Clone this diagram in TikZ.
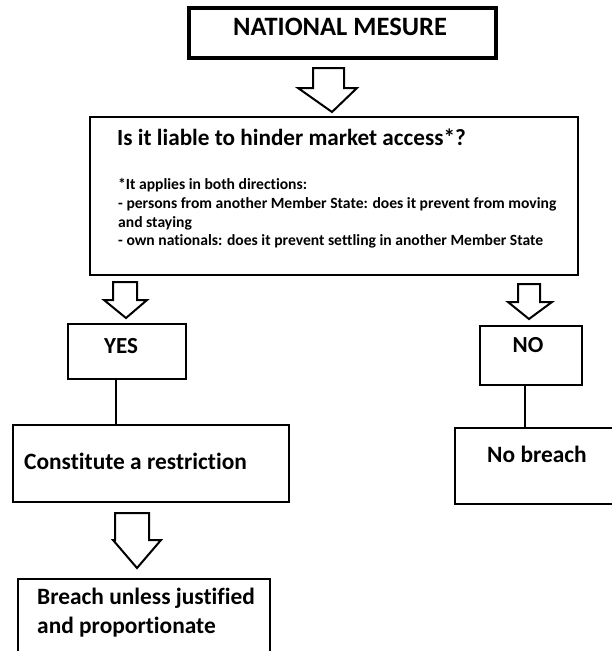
\documentclass[tikz,border=0pt]{standalone}
\usepackage{fontspec}
\setmainfont{Carlito}[Ligatures=CommonOff]
\begin{document}
\begin{tikzpicture}[x=1pt,y=-1pt,
  box/.style={draw=black,line width=2pt,fill=white,inner sep=0pt},
  thickbox/.style={draw=black,line width=3.5pt,fill=white,inner sep=0pt},
  lbl/.style={inner sep=0pt,font=\bfseries},
  blockarrow/.style={draw=black,line width=2pt,fill=white,line join=miter},
  link/.style={draw=black,line width=2pt}]
\useasboundingbox[fill=white] (0,0) rectangle (612,651);
\begin{scope}
\clip (0,0) rectangle (612,651);
% boxes
\node[thickbox,minimum width=307pt,minimum height=50pt] (top) at (342.5,33) {};
\node[box,minimum width=488pt,minimum height=158pt] (main) at (334,196) {};
\node[box,minimum width=118pt,minimum height=55pt] (yes) at (127,351.5) {};
\node[box,minimum width=102pt,minimum height=59pt] (no) at (531,355.5) {};
\node[box,minimum width=276pt,minimum height=77pt] (cons) at (151,463.5) {};
\node[box,minimum width=170pt,minimum height=76pt] (nobr) at (540,466) {};
\node[box,minimum width=252pt,minimum height=81pt] (breach) at (144,619.5) {};
% texts
\node[lbl,anchor=base,font=\bfseries\fontsize{26.5}{30}\selectfont] (ttop) at (340,35) {NATIONAL MESURE};
\node[lbl,anchor=base west,font=\bfseries\fontsize{23.2}{27}\selectfont] (tq) at (117,145) {Is it liable to hinder market access*?};
\node[lbl,anchor=base west,font=\bfseries\fontsize{15.6}{18}\selectfont] (f1) at (118,189) {*It applies in both directions:};
\node[lbl,anchor=base west,font=\bfseries\fontsize{15.6}{18}\selectfont] (f2) at (118,208) {- persons from another Member State: does it prevent from moving};
\node[lbl,anchor=base west,font=\bfseries\fontsize{15.6}{18}\selectfont] (f3) at (118,227) {and staying};
\node[lbl,anchor=base west,font=\bfseries\fontsize{15.6}{18}\selectfont] (f4) at (118,245) {- own nationals: does it prevent settling in another Member State};
\node[lbl,anchor=base,font=\bfseries\fontsize{23}{27}\selectfont] (tyes) at (121,353) {YES};
\node[lbl,anchor=base,font=\bfseries\fontsize{23}{27}\selectfont] (tno) at (528,352) {NO};
\node[lbl,anchor=base west,font=\bfseries\fontsize{23.4}{27}\selectfont] (tcons) at (24,469) {Constitute a restriction};
\node[lbl,anchor=base,font=\bfseries\fontsize{23.4}{27}\selectfont] (tnobr) at (537,462) {No breach};
\node[lbl,anchor=base west,font=\bfseries\fontsize{23.4}{27}\selectfont] (tb1) at (37,604) {Breach unless justified};
\node[lbl,anchor=base west,font=\bfseries\fontsize{23.4}{27}\selectfont] (tb2) at (37,633) {and proportionate};
% block arrows
\draw[blockarrow] (313,68) -- (344,68) -- (344,88) -- (357,88) -- (332,112) -- (298,88) -- (313,88) -- cycle;
\draw[blockarrow] (113,282) -- (137,282) -- (137,300) -- (147,300) -- (126,318) -- (104,300) -- (113,300) -- cycle;
\draw[blockarrow] (518,284) -- (540,284) -- (540,302) -- (552,302) -- (529,319) -- (508,302) -- (518,302) -- cycle;
\draw[blockarrow] (115,513) -- (149,513) -- (149,540) -- (161,540) -- (137,568) -- (113,540) -- (115,540) -- cycle;
% connectors
\draw[link] (yes.south -| 116,0) -- (cons.north -| 116,0);
\draw[link] (no.south -| 525,0) -- (nobr.north -| 525,0);
\end{scope}
\end{tikzpicture}
\end{document}
